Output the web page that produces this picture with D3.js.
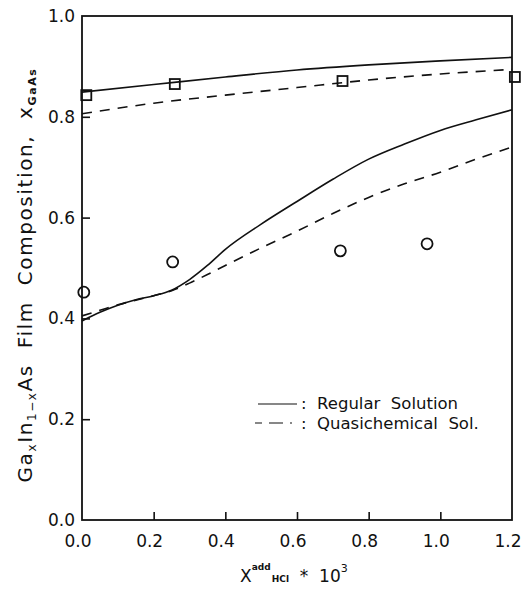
<!DOCTYPE html>
<html lang="en">
<head>
  <meta charset="UTF-8" />
  <title>GaInAs film composition</title>
  <script src="https://d3js.org/d3.v7.min.js"></script>
  <style>
    body { margin: 0; background: #fff; font-family: "DejaVu Sans", sans-serif; }
    text { white-space: pre; }
    .tick-label { font-size: 17px; fill: #111; }
    .curve { fill: none; stroke: #111; stroke-width: 1.6; }
    .dashed { stroke-dasharray: 10, 8; }
    .marker { fill: none; stroke: #111; stroke-width: 1.8; }
  </style>
</head>
<body>
  <svg id="chart" width="525" height="589"></svg>
  <script>
    // x = HCl addition * 10^3, y = Ga fraction in film
    const xTicks = [0.0, 0.2, 0.4, 0.6, 0.8, 1.0, 1.2];
    const yTicks = [0.0, 0.2, 0.4, 0.6, 0.8, 1.0];

    const regularUpper = [[0, 0.849], [0.2, 0.864], [0.4, 0.879], [0.6, 0.893], [0.8, 0.903], [1.0, 0.911], [1.2, 0.918]];
    const quasiUpper = [[0, 0.806], [0.2, 0.827], [0.4, 0.843], [0.6, 0.858], [0.8, 0.873], [1.0, 0.885], [1.2, 0.894]];

    const regularLower = [[0, 0.395], [0.05, 0.412], [0.1, 0.426], [0.15, 0.437], [0.2, 0.445], [0.25, 0.456],
      [0.3, 0.477], [0.35, 0.505], [0.4, 0.537], [0.5, 0.587], [0.6, 0.632], [0.7, 0.676], [0.8, 0.716],
      [0.9, 0.746], [1.0, 0.773], [1.1, 0.794], [1.2, 0.814]];
    const quasiLower = [[0, 0.405], [0.05, 0.416], [0.1, 0.427], [0.15, 0.436], [0.2, 0.445], [0.25, 0.455],
      [0.3, 0.47], [0.35, 0.487], [0.4, 0.505], [0.5, 0.54], [0.6, 0.573], [0.7, 0.608], [0.8, 0.640],
      [0.9, 0.667], [1.0, 0.690], [1.1, 0.716], [1.2, 0.740]];

    const squares = [[0.012, 0.843], [0.259, 0.865], [0.727, 0.871], [1.208, 0.879]];
    const circles = [[0.005, 0.452], [0.253, 0.512], [0.721, 0.534], [0.963, 0.548]];

    const margin = { top: 16, right: 13, bottom: 69, left: 82 };
    const width = 525 - margin.left - margin.right;
    const height = 589 - margin.top - margin.bottom;

    const svg = d3.select("#chart");
    const g = svg.append("g").attr("transform", `translate(${margin.left},${margin.top})`);

    const x = d3.scaleLinear().domain([0, 1.2]).range([0, width]);
    const y = d3.scaleLinear().domain([0, 1.0]).range([height, 0]);

    // frame
    g.append("rect")
      .attr("width", width).attr("height", height)
      .attr("fill", "none").attr("stroke", "#111").attr("stroke-width", 1.8);

    // inward ticks
    const xAxis = d3.axisTop(x).tickValues(xTicks.slice(1, -1)).tickSize(8).tickFormat("");
    g.append("g").attr("transform", `translate(0,${height})`).call(xAxis)
      .call(a => a.select(".domain").remove())
      .selectAll("line").attr("stroke", "#111").attr("stroke-width", 1.6);

    const yAxis = d3.axisRight(y).tickValues(yTicks.slice(1, -1)).tickSize(8).tickFormat("");
    g.append("g").call(yAxis)
      .call(a => a.select(".domain").remove())
      .selectAll("line").attr("stroke", "#111").attr("stroke-width", 1.6);

    // tick labels
    g.selectAll(".xl").data(xTicks).enter().append("text")
      .attr("class", "tick-label")
      .attr("x", d => x(d) - 4).attr("y", height + 27)
      .attr("text-anchor", "middle")
      .text(d => d.toFixed(1));

    g.selectAll(".yl").data(yTicks).enter().append("text")
      .attr("class", "tick-label")
      .attr("x", -7).attr("y", d => y(d) + 6)
      .attr("text-anchor", "end")
      .text(d => d.toFixed(1));

    const line = d3.line().x(d => x(d[0])).y(d => y(d[1])).curve(d3.curveMonotoneX);

    g.append("path").datum(regularUpper).attr("class", "curve").attr("d", line);
    g.append("path").datum(quasiUpper).attr("class", "curve dashed").attr("d", line);
    g.append("path").datum(regularLower).attr("class", "curve").attr("d", line);
    g.append("path").datum(quasiLower).attr("class", "curve dashed").attr("d", line);

    g.selectAll(".sq").data(squares).enter().append("rect")
      .attr("class", "marker")
      .attr("x", d => x(d[0]) - 5).attr("y", d => y(d[1]) - 5)
      .attr("width", 10).attr("height", 10);

    g.selectAll(".ci").data(circles).enter().append("circle")
      .attr("class", "marker")
      .attr("cx", d => x(d[0])).attr("cy", d => y(d[1]))
      .attr("r", 5.5);

    // legend
    const legend = svg.append("g").attr("transform", "translate(258,404)");
    legend.append("line").attr("x1", 0).attr("x2", 39).attr("y1", 0).attr("y2", 0)
      .attr("stroke", "#111").attr("stroke-width", 1.2);
    legend.append("line").attr("x1", -3).attr("x2", 40).attr("y1", 19).attr("y2", 19)
      .attr("stroke", "#111").attr("stroke-width", 1.2).attr("stroke-dasharray", "7,7,14,7,2,10");
    legend.append("text").attr("x", 43).attr("y", 5).style("font-size", "16.5px").attr("fill", "#111")
      .text(":  Regular  Solution");
    legend.append("text").attr("x", 43).attr("y", 25).style("font-size", "16.5px").attr("fill", "#111")
      .text(":  Quasichemical  Sol.");

    // x-axis title
    const xt = svg.append("text")
      .attr("x", 240).attr("y", 582)
      .style("font-size", "17px").attr("fill", "#111");
    xt.append("tspan").text("X");
    xt.append("tspan").attr("dy", -12).style("font-size", "9px").style("font-weight", "bold").text("add");
    xt.append("tspan").attr("dx", -2).attr("dy", 12).style("font-size", "9px").style("font-weight", "bold").text(" HCl");
    xt.append("tspan").text("  *  10");
    xt.append("tspan").attr("dy", -10).style("font-size", "11px").text("3");

    // y-axis title
    const yt = svg.append("text")
      .attr("transform", "translate(32,275) rotate(-90)")
      .attr("text-anchor", "middle")
      .style("font-size", "20px").style("letter-spacing", "1.6px").attr("fill", "#111");
    yt.append("tspan").text("Ga");
    yt.append("tspan").attr("dy", 4).style("font-size", "12px").text("x");
    yt.append("tspan").attr("dy", -4).text("In");
    yt.append("tspan").attr("dy", 4).style("font-size", "12px").text("1\u2212x");
    yt.append("tspan").attr("dy", -4).text("As  Film  Composition,  x");
    yt.append("tspan").attr("dy", 4).style("font-size", "11px").style("font-weight", "bold").text("GaAs");
  </script>
</body>
</html>
